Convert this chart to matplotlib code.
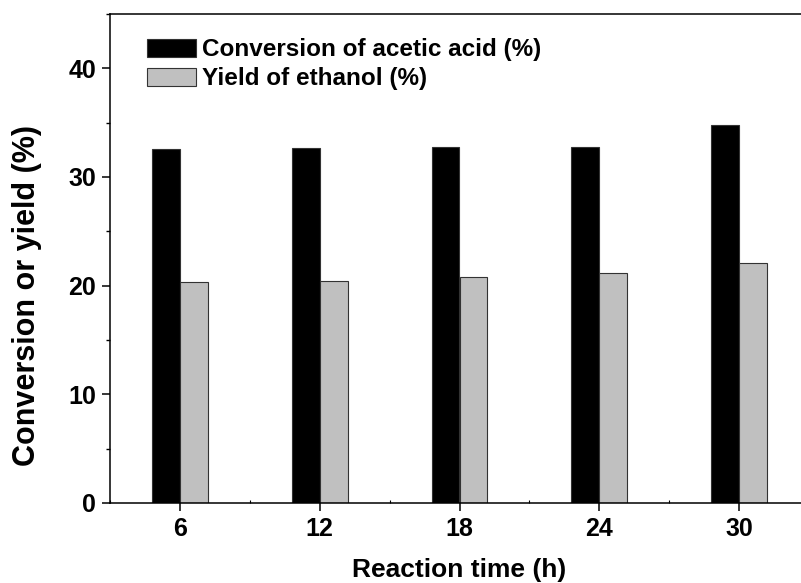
import numpy as np
import matplotlib.pyplot as plt
from matplotlib.ticker import MultipleLocator

plt.rcParams['font.family'] = ['Liberation Sans', 'DejaVu Sans']
plt.rcParams['font.weight'] = 'bold'

# data
times = [6, 12, 18, 24, 30]
conversion = [32.6, 32.7, 32.8, 32.8, 34.8]
yield_eth = [20.3, 20.4, 20.8, 21.2, 22.1]

fig = plt.figure(figsize=(8.01, 5.83), dpi=100, facecolor='white')
ax = fig.add_axes([110/801, 80/583, 699/801, 489/583])

w = 1.2
x = np.array(times)
ax.bar(x - w/2, conversion, width=w, color='black', edgecolor='#333333', linewidth=0.8,
       label='Conversion of acetic acid (%)')
ax.bar(x + w/2, yield_eth, width=w, color='#c0c0c0', edgecolor='#333333', linewidth=0.8,
       label='Yield of ethanol (%)')

ax.set_xlim(3, 33)
ax.set_ylim(0, 45)
ax.set_xticks(times)
ax.xaxis.set_minor_locator(MultipleLocator(3))
ax.yaxis.set_major_locator(MultipleLocator(10))
ax.yaxis.set_minor_locator(MultipleLocator(5))

for s in ax.spines.values():
    s.set_linewidth(1.1)
ax.tick_params(which='major', direction='out', length=6, width=1.1, labelsize=18, pad=4)
ax.tick_params(axis='y', which='minor', direction='out', length=3, width=1.0)
ax.tick_params(axis='x', which='minor', direction='in', length=2, width=0.8)

ax.set_xlabel('Reaction time (h)', fontsize=19, fontweight='bold', labelpad=12)
ax.set_ylabel('Conversion or yield (%)', fontsize=22, fontweight='bold')
ax.yaxis.set_label_coords(-0.097, 0.425)

ax.legend(loc='upper left', bbox_to_anchor=(0.029, 0.985), frameon=False,
          fontsize=17.5, handlelength=2.0, handleheight=0.75, handletextpad=0.25,
          labelspacing=0.25, borderaxespad=0.3)

fig.savefig('out.png', dpi=100, facecolor='white')
